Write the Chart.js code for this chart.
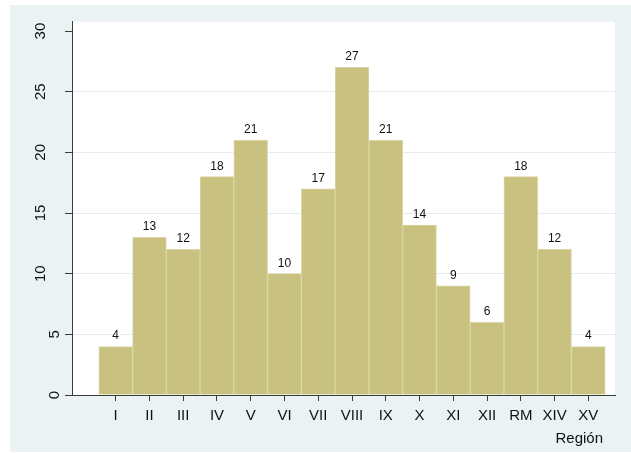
<!DOCTYPE html>
<html>
<head>
<meta charset="utf-8">
<script src="https://cdn.jsdelivr.net/npm/chart.js@4/dist/chart.umd.min.js"></script>
<style>
  body { margin: 0; background: #fff; }
  #wrap { position: absolute; left: 10px; top: 5px; width: 621px; height: 447px; background: #EAF2F3; }
</style>
</head>
<body>
<div id="wrap"><canvas id="chart" width="621" height="447"></canvas></div>
<script>
  const regions = ['I', 'II', 'III', 'IV', 'V', 'VI', 'VII', 'VIII', 'IX', 'X', 'XI', 'XII', 'RM', 'XIV', 'XV'];
  const counts = [4, 13, 12, 18, 21, 10, 17, 27, 21, 14, 9, 6, 18, 12, 4];
  const yTicks = [0, 5, 10, 15, 20, 25, 30];
  const xTitle = 'Región';

  const positions = regions.map((r, i) => i + 1);
  const axisColor = '#3a3a3a';
  const textColor = '#111';
  const fontFamily = '"Liberation Sans", Arial, sans-serif';

  // white plot region
  const plotBg = {
    id: 'plotBg',
    beforeDraw(chart) {
      const a = chart.chartArea;
      chart.ctx.save();
      chart.ctx.fillStyle = '#fff';
      chart.ctx.fillRect(a.left, a.top, a.right - a.left, a.bottom - a.top);
      chart.ctx.restore();
    }
  };

  // numbers above each bar
  const barLabels = {
    id: 'barLabels',
    afterDatasetsDraw(chart) {
      const ctx = chart.ctx;
      const meta = chart.getDatasetMeta(0);
      ctx.save();
      ctx.font = '12px ' + fontFamily;
      ctx.fillStyle = textColor;
      ctx.textAlign = 'center';
      ctx.textBaseline = 'alphabetic';
      meta.data.forEach((bar, i) => {
        ctx.fillText(String(counts[i]), bar.x, bar.y - 7);
      });
      ctx.restore();
    }
  };

  // rotated y tick labels (stata style) + axis title bottom right
  const axisText = {
    id: 'axisText',
    afterDraw(chart) {
      const ctx = chart.ctx;
      const ys = chart.scales.y;
      ctx.save();
      ctx.font = '15px ' + fontFamily;
      ctx.fillStyle = textColor;
      ys.ticks.forEach(t => {
        const label = String(t.value);
        const x = ys.right - (label.length > 1 ? 31.5 : 17.5);
        const y = ys.getPixelForValue(t.value);
        ctx.save();
        ctx.translate(x, y);
        ctx.rotate(-Math.PI / 2);
        ctx.textAlign = 'center';
        ctx.textBaseline = 'middle';
        ctx.fillText(label, 0, 0);
        ctx.restore();
      });
      ctx.textAlign = 'right';
      ctx.textBaseline = 'alphabetic';
      ctx.fillText(xTitle, chart.chartArea.right - 12, 437.5);
      ctx.restore();
    }
  };

  new Chart(document.getElementById('chart'), {
    type: 'bar',
    data: {
      datasets: [{
        data: positions.map((p, i) => ({ x: p, y: counts[i] })),
        backgroundColor: '#C9C17F',
        borderColor: '#DCD6A6',
        borderWidth: 1,
        barPercentage: 1,
        categoryPercentage: 1
      }]
    },
    options: {
      responsive: false,
      animation: false,
      layout: { padding: { left: 0, top: 16.7, right: 16, bottom: 0 } },
      plugins: { legend: { display: false }, tooltip: { enabled: false } },
      scales: {
        x: {
          type: 'linear',
          offset: false,
          min: -0.294,
          max: 15.79,
          afterBuildTicks: s => { s.ticks = positions.map(v => ({ value: v })); },
          afterFit: s => { s.height = 57; },
          ticks: {
            callback: v => regions[v - 1],
            autoSkip: false,
            maxRotation: 0,
            padding: 6,
            color: textColor,
            font: { family: fontFamily, size: 15 }
          },
          grid: { offset: false, drawOnChartArea: false, tickLength: 6, tickColor: axisColor },
          border: { display: true, color: axisColor, width: 1 }
        },
        y: {
          min: 0,
          max: 30.77,
          afterBuildTicks: s => { s.ticks = yTicks.map(v => ({ value: v })); },
          afterFit: s => { s.width = 62; },
          ticks: { display: false },
          grid: {
            color: c => (c.tick && (c.tick.value === 0 || c.tick.value === 30)) ? 'rgba(0,0,0,0)' : '#E3ECEE',
            tickLength: 7,
            tickColor: axisColor
          },
          border: { display: true, color: axisColor, width: 1 }
        }
      }
    },
    plugins: [plotBg, barLabels, axisText]
  });
</script>
</body>
</html>
